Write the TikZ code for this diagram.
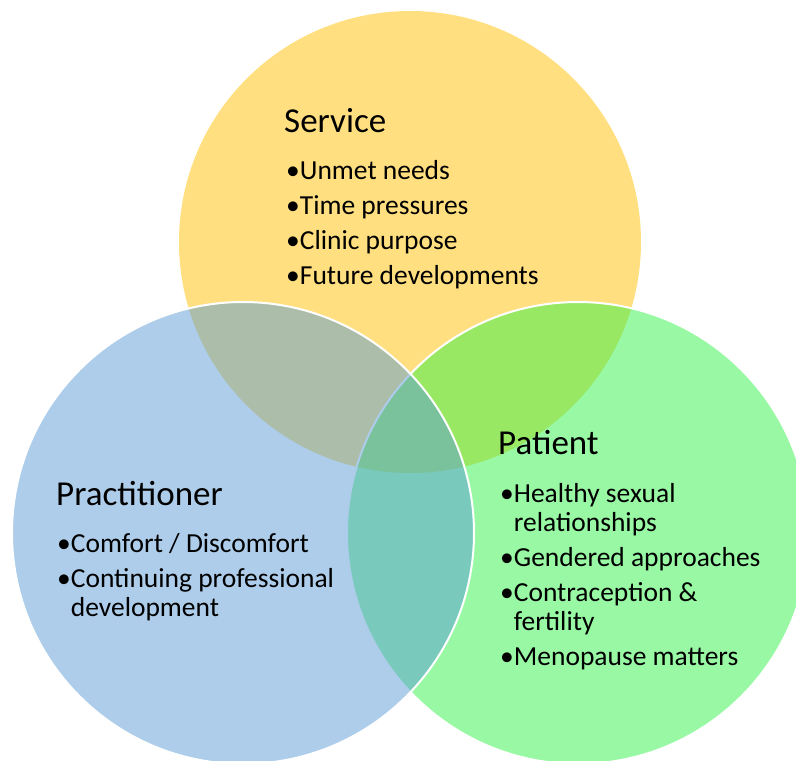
\documentclass[tikz,border=0pt]{standalone}
\usepackage{fontspec}
\setmainfont{Carlito}
\usetikzlibrary{positioning}

\definecolor{servicegold}{RGB}{255,192,0}
\definecolor{practblue}{RGB}{91,155,213}
\definecolor{patientgreen}{RGB}{50,242,72}

% a list whose baseline is that of its first line
\newcommand{\itemlist}[1]{\begin{tabular}[t]{@{}l@{}}#1\end{tabular}}

\begin{document}
\begin{tikzpicture}[x=1pt,y=-1pt,
    venn/.style={circle,minimum size=462pt,inner sep=0pt,fill opacity=0.5},
    rim/.style={draw=white,line width=2pt},
    heading/.style={anchor=base west,inner sep=0pt,font=\fontsize{35}{38}\selectfont},
    items/.style={anchor=base west,inner sep=0pt,font=\fontsize{27.5}{29}\selectfont}]
    \useasboundingbox (0,0) rectangle (796,761);
    \clip (0,0) rectangle (796,761);

    % the three circles
    \node[venn,fill=servicegold] (service) at (410,242) {};
    \node[venn,rim,fill=patientgreen] (patient) at (578,533) {};
    \node[venn,rim,fill=practblue] (practitioner) at (243,533) {};

    % Service
    \node[heading] (servicetitle) at (284,132) {Service};
    \node[items] (servicelist) at (286,179) {\itemlist{\textbullet Unmet needs\\[6pt]
        \textbullet Time pressures\\[6pt]
        \textbullet Clinic purpose\\[6pt]
        \textbullet Future developments}};

    % Practitioner
    \node[heading] (practtitle) at (56,505) {Practitioner};
    \node[items] (practlist) at (57,552) {\itemlist{\textbullet Comfort / Discomfort\\[6pt]
        \textbullet Continuing professional\\
        \phantom{\textbullet}development}};

    % Patient
    \node[heading] (patienttitle) at (498,454) {Patient};
    \node[items] (patientlist) at (500,502) {\itemlist{\textbullet Healthy sexual\\
        \phantom{\textbullet}relationships\\[6pt]
        \textbullet Gendered approaches\\[6pt]
        \textbullet Contraception \&\\
        \phantom{\textbullet}fertility\\[6pt]
        \textbullet Menopause matters}};
\end{tikzpicture}
\end{document}
